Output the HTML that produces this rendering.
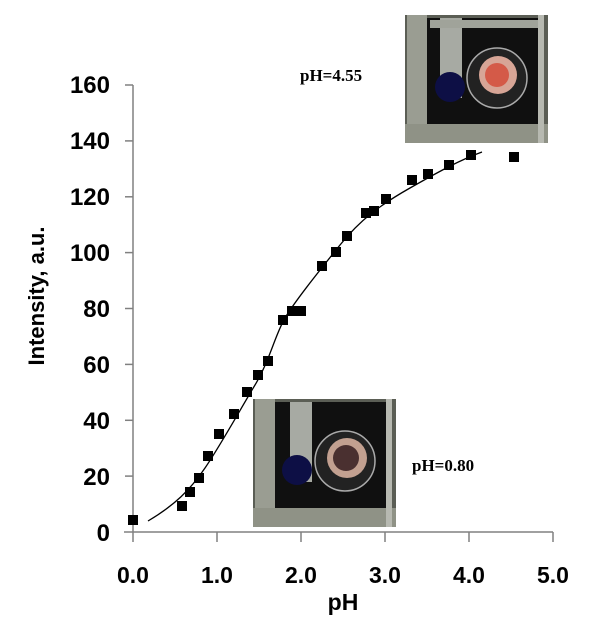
<!DOCTYPE html>
<html><head><style>body{margin:0;background:#fff}svg{display:block}</style></head><body>
<svg width="610" height="633" viewBox="0 0 610 633" xmlns="http://www.w3.org/2000/svg" font-family="Liberation Sans, Arial, sans-serif">
<rect width="610" height="633" fill="#fff"/>
<!-- axes -->
<line x1="133" y1="85" x2="133" y2="532" stroke="#808080" stroke-width="1.5"/>
<line x1="124" y1="532" x2="553" y2="532" stroke="#808080" stroke-width="1.5"/>
<g stroke="#808080" stroke-width="1.5">
<line x1="125" y1="476.1" x2="133" y2="476.1"/><line x1="125" y1="420.3" x2="133" y2="420.3"/><line x1="125" y1="364.4" x2="133" y2="364.4"/><line x1="125" y1="308.5" x2="133" y2="308.5"/><line x1="125" y1="252.6" x2="133" y2="252.6"/><line x1="125" y1="196.8" x2="133" y2="196.8"/><line x1="125" y1="140.9" x2="133" y2="140.9"/><line x1="125" y1="85" x2="133" y2="85"/>
<line x1="133" y1="532" x2="133" y2="542"/><line x1="217" y1="532" x2="217" y2="542"/><line x1="301" y1="532" x2="301" y2="542"/><line x1="385" y1="532" x2="385" y2="542"/><line x1="469" y1="532" x2="469" y2="542"/><line x1="553" y1="532" x2="553" y2="542"/>
</g>
<g font-size="24" font-weight="bold" text-anchor="end">
<text x="110" y="541">0</text><text x="110" y="485">20</text><text x="110" y="429">40</text><text x="110" y="373">60</text><text x="110" y="317">80</text><text x="110" y="261">100</text><text x="110" y="205">120</text><text x="110" y="149">140</text><text x="110" y="93">160</text>
</g>
<g font-size="23" font-weight="bold" text-anchor="middle">
<text x="133" y="583">0.0</text><text x="217" y="583">1.0</text><text x="301" y="583">2.0</text><text x="385" y="583">3.0</text><text x="469" y="583">4.0</text><text x="553" y="583">5.0</text>
<text x="343" y="610">pH</text>
</g>
<text transform="translate(44,296) rotate(-90)" font-size="22" font-weight="bold" text-anchor="middle">Intensity, a.u.</text>
<!-- photos -->
<g>
<rect x="253" y="399" width="143" height="128" fill="#5b5e55"/>
<rect x="262" y="402" width="128" height="110" fill="#101010"/>
<rect x="255" y="399" width="20" height="128" fill="#9a9d92"/>
<rect x="290" y="402" width="22" height="80" fill="#a7aaa3"/>
<rect x="253" y="508" width="143" height="19" fill="#8f9286"/>
<circle cx="297" cy="470" r="15" fill="#0d0f45"/>
<circle cx="345" cy="461" r="30" fill="#222" stroke="#aaa" stroke-width="1.5"/>
<circle cx="347" cy="458" r="20" fill="#c2a090"/>
<circle cx="346" cy="458" r="13" fill="#4a3030"/>
<rect x="386" y="399" width="6" height="128" fill="#b7b9b1"/>
</g>
<g>
<rect x="405" y="15" width="143" height="128" fill="#5b5e55"/>
<rect x="414" y="18" width="128" height="110" fill="#101010"/>
<rect x="407" y="15" width="20" height="128" fill="#9a9d92"/>
<rect x="440" y="18" width="22" height="80" fill="#a7aaa3"/>
<rect x="430" y="20" width="110" height="8" fill="#a0a39a"/>
<rect x="405" y="124" width="143" height="19" fill="#8f9286"/>
<circle cx="450" cy="87" r="15" fill="#0d0f45"/>
<circle cx="497" cy="78" r="30" fill="#222" stroke="#aaa" stroke-width="1.5"/>
<circle cx="498" cy="75" r="19" fill="#d7a596"/>
<circle cx="497" cy="75" r="12" fill="#d45a48"/>
<rect x="538" y="15" width="6" height="128" fill="#b7b9b1"/>
</g>
<text x="300" y="81" font-family="Liberation Serif, serif" font-size="17" font-weight="bold">pH=4.55</text>
<text x="412" y="471" font-family="Liberation Serif, serif" font-size="17" font-weight="bold">pH=0.80</text>
<!-- fit curve -->
<path d="M148,521 C175,505 190,490 205,468 S240,410 255,385 S275,335 285,318 S320,270 340,245 S380,205 410,188 S460,160 482,152" fill="none" stroke="#000" stroke-width="1.3"/>
<!-- points -->
<g fill="#000">
<rect x="128" y="515" width="10" height="10"/><rect x="177" y="501" width="10" height="10"/><rect x="185" y="487" width="10" height="10"/><rect x="194" y="473" width="10" height="10"/><rect x="203" y="451" width="10" height="10"/><rect x="214" y="429" width="10" height="10"/><rect x="229" y="409" width="10" height="10"/><rect x="242" y="387" width="10" height="10"/><rect x="253" y="370" width="10" height="10"/><rect x="263" y="356" width="10" height="10"/><rect x="278" y="315" width="10" height="10"/><rect x="287" y="306" width="10" height="10"/><rect x="296" y="306" width="10" height="10"/><rect x="317" y="261" width="10" height="10"/><rect x="331" y="247" width="10" height="10"/><rect x="342" y="231" width="10" height="10"/><rect x="361" y="208" width="10" height="10"/><rect x="369" y="206" width="10" height="10"/><rect x="381" y="194" width="10" height="10"/><rect x="407" y="175" width="10" height="10"/><rect x="423" y="169" width="10" height="10"/><rect x="444" y="160" width="10" height="10"/><rect x="466" y="150" width="10" height="10"/><rect x="509" y="152" width="10" height="10"/>
</g>
</svg>
</body></html>
